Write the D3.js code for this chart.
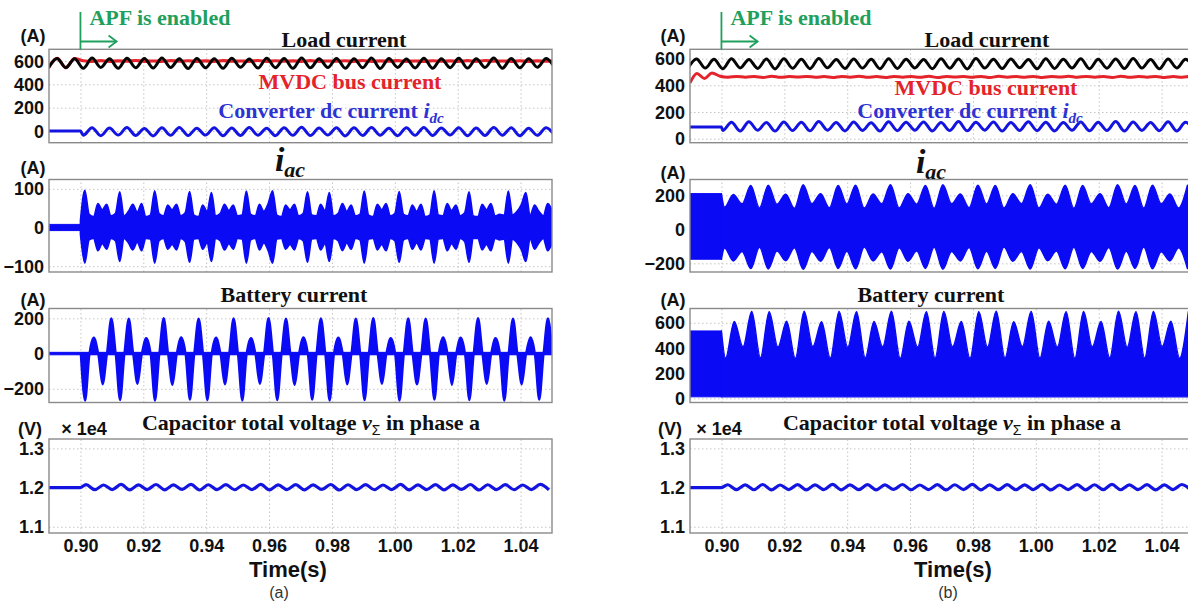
<!DOCTYPE html>
<html><head><meta charset="utf-8">
<script src="https://cdn.jsdelivr.net/npm/d3@7"></script>
<style>body{margin:0;background:#fff}svg{display:block}</style>
</head><body>
<svg id="c" width="1188" height="603"></svg>
<script>
// ================= DATA =================
const timeDomain = [0.89, 1.05];
const xTickValues = [0.90, 0.92, 0.94, 0.96, 0.98, 1.00, 1.02, 1.04];
const apfEnableTime = 0.9;
const halfPeriod = 1 / 360;     // 180 Hz ripple, extremum spacing
const quarterPeriod = 1 / 720;  // envelope sample spacing

const yTicksLeft  = {p1: [0, 200, 400, 600], p2: [-100, 0, 100], p3: [-200, 0, 200], p4: [1.1, 1.2, 1.3]};
const yTicksRight = {p1: [0, 200, 400, 600], p2: [-200, 0, 200], p3: [0, 200, 400, 600], p4: [1.1, 1.2, 1.3]};

// ---- (a) left case ----
const loadLeftStart = 0.8898;
const loadLeft = [540,622,543,620,538,625,545,618,537,623,542,621,539,626,544,619,536,622,541,620,
  538,624,546,617,539,623,543,621,537,625,541,618,544,622,538,620,542,626,536,621,
  545,617,540,624,537,620,543,623,539,618,544,625,538,621,541,619,546,622,540];
const mvdcLeftStart = 0.8898;
const mvdcLeft = [540,622,543,620,602,597,603,596,601,598,604,597,600,596,603,598,602,597,601,596,
  603,598,600,597,604,596,602,598,601,597,603,596,600,598,602,597,604,596,601,598,
  603,597,600,596,602,598,601,597,603,596,604,598,600,597,602,596,601,598,603];
const idcLeftPre = [[0.89, 0], [0.9, 0]];
const idcLeftStart = 0.9009;
const idcLeft = [-36,28,-40,25,-35,30,-38,22,-42,27,-37,31,-39,24,-35,29,-41,26,-38,30,
  -36,23,-40,28,-37,32,-39,25,-35,29,-42,27,-38,30,-36,24,-40,28,-37,31,
  -39,26,-35,29,-41,25,-38,30,-36,27,-40,23,-37,29,-39];
const iacLeftPreBand = [8, -8];
const iacLeftStart = 0.9;
const iacLeftUpper = [18,
  96,34,28,62,46,60,30,36, 92,30,42,60,40,62,28,32, 95,36,30,58,46,60,30,38,
  93,32,28,58,42,90,30,36, 60,44,58,30,32,94,34,30, 60,42,62,95,32,28,58,46,
  60,30,36,92,32,30,60,44, 90,30,36,62,42,58,30,34, 94,32,28,60,46,62,30,36,
  93,34,30,58,42,60,28,32, 95,32,30,62,44,58,30,38, 92,30,28,60,46,62,30,34,
  32,94,32,42,60,90,32,58, 42,30,62,45];
const iacLeftLower = [-18,
  -92,-32,-28,-60,-42,-56,-28,-34, -88,-28,-40,-58,-38,-60,-28,-30, -92,-34,-28,-56,-44,-58,-28,-36,
  -90,-30,-28,-56,-40,-88,-28,-34, -58,-42,-56,-28,-30,-92,-32,-28, -58,-40,-60,-92,-30,-28,-56,-44,
  -58,-28,-34,-90,-30,-28,-58,-42, -88,-28,-34,-60,-40,-56,-28,-32, -92,-30,-28,-58,-44,-60,-28,-34,
  -90,-32,-28,-56,-40,-58,-28,-30, -92,-30,-28,-60,-42,-56,-28,-36, -90,-28,-28,-58,-44,-60,-28,-32,
  -30,-92,-30,-40,-58,-88,-30,-56, -40,-28,-60,-42];
const batteryLeftZeroBand = [7, -7];
const batteryLeftStart = 0.9001;
const batteryLeftNegPeaks = [-268,-175,-265,-172,-268,-178,-262,-265,-175,-268,-172,-265,-178,-262,
  -268,-175,-265,-172,-268,-175,-262,-178,-265,-172,-268,-175,-262];
const batteryLeftPosPeaks = [90,200,198,88,202,92,198,90,200,88,202,198,92,200,
  90,198,202,88,200,198,92,90,202,88,198,92,200];
const capLeftPre = [[0.89, 1.2], [0.9, 1.2]];
const capLeftStart = 0.9018;
const capLeft = [1.2075,1.1945,1.2065,1.1950,1.2080,1.1940,1.2070,1.1948,1.2078,1.1942,
  1.2068,1.1952,1.2082,1.1938,1.2072,1.1946,1.2076,1.1944,1.2066,1.1950,
  1.2080,1.1940,1.2070,1.1948,1.2074,1.1942,1.2068,1.1952,1.2078,1.1938,
  1.2072,1.1946,1.2076,1.1944,1.2066,1.1950,1.2080,1.1940,1.2070,1.1948,
  1.2074,1.1942,1.2068,1.1952,1.2078,1.1938,1.2072,1.1946,1.2076,1.1944,
  1.2066,1.1950,1.2080,1.1942];

// ---- (b) right case ----
const loadRightStart = 0.8893;
const loadRight = [526,598,529,595,524,600,530,594,527,597,523,599,528,596,525,601,531,593,526,598,
  529,595,524,600,527,596,530,594,525,599,528,597,523,601,529,595,526,598,531,594,
  524,600,527,596,530,599,525,595,528,598,526,601,529,594,524,597,530,596,527];
const mvdcRightPre = [[0.89,418],[0.8922,488],[0.8946,452],[0.8970,492],[0.8996,468]];
const mvdcRightStart = 0.9021;
const mvdcRight = [460,467,461,466,459,468,460,466,462,467,460,466,459,467,461,468,460,466,459,467,
  461,466,460,468,459,467,462,466,460,467,459,468,461,466,460,467,459,466,462,468,
  460,467,461,466,459,468,460,466,461,467,459,466,460,467,461];
const idcRightPre = [[0.89, 88], [0.9, 88]];
const idcRightStart = 0.9004;
const idcRight = [62,124,58,127,63,121,57,126,61,123,59,128,64,122,58,125,62,120,57,127,
  60,124,63,126,58,121,61,128,59,123,64,125,57,122,62,127,60,124,58,121,
  63,126,59,123,61,128,57,125,62,122,60,127,58,124,61];
const iacRightPreBand = [210, -176];
const iacRightStart = 0.9010;
const iacRightUpper = [130,205,150,258,126,260,148,207,124,262,150,210,127,258,149,260,125,208,151,262,
  126,210,148,258,124,262,150,208,127,260,149,258,125,210,151,262,126,207,148,260,
  124,258,150,210,127,262,149,258,125,260,151,208,126,260];
const iacRightLower = [-110,-186,-130,-231,-106,-233,-128,-185,-108,-235,-131,-188,-107,-230,-129,-232,-105,-186,-132,-234,
  -108,-188,-128,-230,-106,-235,-130,-186,-107,-232,-129,-230,-105,-188,-131,-234,-108,-185,-128,-232,
  -106,-230,-130,-188,-107,-234,-129,-230,-105,-232,-132,-186,-108,-231];
const batteryRightPreTop = 535;
const batteryRightFloor = 12;
const batteryRightStart = 0.9013;
const batteryRightUpper = [320,610,410,690,322,688,408,612,318,692,412,608,320,690,406,688,322,610,410,692,
  318,612,408,688,321,690,410,610,319,688,407,692,322,608,411,690,320,612,408,688,
  318,690,410,610,322,692,406,688,320,690,412,612,319,688];
const capRightPre = [[0.89, 1.2], [0.9, 1.2]];
const capRightStart = 0.9020;
const capRight = [1.2072,1.1948,1.2068,1.1944,1.2078,1.1942,1.2066,1.1950,1.2076,1.1940,
  1.2070,1.1948,1.2080,1.1942,1.2068,1.1946,1.2074,1.1940,1.2070,1.1952,
  1.2078,1.1944,1.2066,1.1948,1.2076,1.1940,1.2072,1.1950,1.2080,1.1942,
  1.2068,1.1946,1.2074,1.1944,1.2070,1.1948,1.2078,1.1940,1.2066,1.1950,
  1.2076,1.1942,1.2072,1.1946,1.2080,1.1944,1.2068,1.1948,1.2074,1.1940,
  1.2070,1.1950,1.2078,1.1944];

// ================= LAYOUT / DRAW =================
const svg = d3.select('#c');
const SANS = "'Liberation Sans', Arial, Helvetica, sans-serif";
const SERIF = "'Liberation Serif', 'Times New Roman', Times, serif";
const BLUE_FILL = '#0a0af5', BLUE_LINE = '#1414e0', RED = '#e4232a', GREEN = '#1fa05c';

const panelY = {p1: [49.3, 142.7], p2: [179.5, 272], p3: [308.5, 402.5], p4: [439, 533]};

function seq(t0, step, vals) { return vals.map((v, i) => [t0 + i * step, v]); }
function seq2(t0, step, hi, lo) { return hi.map((v, i) => [t0 + i * step, v, lo[i]]); }

const sides = [
  {id: 'a', x0: 49, x1: 552, ticks: yTicksLeft,
   dom: {p1: [-100, 700], p2: [-115, 124], p3: [-278, 256], p4: [1.084, 1.324]}},
  {id: 'b', x0: 690, x1: 1193, ticks: yTicksRight,
   dom: {p1: [-30, 670], p2: [-251, 293], p3: [-33, 713], p4: [1.084, 1.324]}}
];

function drawSide(cfg) {
  const x = d3.scaleLinear().domain(timeDomain).range([cfg.x0, cfg.x1]);
  const root = svg.append('g');
  const ys = {};
  ['p1', 'p2', 'p3', 'p4'].forEach(p => {
    const [top, bot] = panelY[p];
    const y = d3.scaleLinear().domain(cfg.dom[p]).range([bot, top]);
    ys[p] = y;
    const clipId = `clip-${cfg.id}-${p}`;
    root.append('clipPath').attr('id', clipId).append('rect')
      .attr('x', cfg.x0).attr('y', top).attr('width', cfg.x1 - cfg.x0).attr('height', bot - top);
    const gv = root.append('g').attr('transform', `translate(0,${bot})`)
      .call(d3.axisBottom(x).tickValues(xTickValues).tickSize(-(bot - top)).tickFormat(''));
    const gh = root.append('g').attr('transform', `translate(${cfg.x0},0)`)
      .call(d3.axisLeft(y).tickValues(cfg.ticks[p]).tickSize(-(cfg.x1 - cfg.x0)).tickFormat(''));
    [gv, gh].forEach(g => {
      g.select('.domain').remove();
      g.selectAll('line').attr('stroke', '#c4c4c4').attr('stroke-width', 1).attr('stroke-dasharray', '1.5,2.5');
    });
    const fmt = p === 'p4' ? d3.format('.1f') : d3.format('d');
    const ga = root.append('g').attr('transform', `translate(${cfg.x0},0)`)
      .call(d3.axisLeft(y).tickValues(cfg.ticks[p]).tickSize(0).tickPadding(5).tickFormat(fmt));
    ga.select('.domain').remove();
    ga.attr('font-family', SANS).attr('font-size', 18).attr('font-weight', 'bold');
    ga.selectAll('text').attr('fill', '#111').attr('dy', '0.34em');
    const layer = root.append('g').attr('clip-path', `url(#${clipId})`);
    ys[p + 'layer'] = layer;
    root.append('rect')
      .attr('x', cfg.x0).attr('y', top).attr('width', cfg.x1 - cfg.x0).attr('height', bot - top)
      .attr('fill', 'none').attr('stroke', '#8a8a8a').attr('stroke-width', 1.4);
  });
  const gx = root.append('g').attr('transform', `translate(0,${panelY.p4[1]})`)
    .call(d3.axisBottom(x).tickValues(xTickValues).tickSize(0).tickPadding(6).tickFormat(d3.format('.2f')));
  gx.select('.domain').remove();
  gx.attr('font-family', SANS).attr('font-size', 18).attr('font-weight', 'bold');
  gx.selectAll('text').attr('fill', '#111');
  return {x, ys, root};
}

const L = drawSide(sides[0]);
const R = drawSide(sides[1]);

function lineOn(S, p, pts, color, w) {
  const y = S.ys[p];
  S.ys[p + 'layer'].append('path').datum(pts)
    .attr('d', d3.line().x(d => S.x(d[0])).y(d => y(d[1])).curve(d3.curveMonotoneX))
    .attr('fill', 'none').attr('stroke', color).attr('stroke-width', w).attr('stroke-linejoin', 'round');
}
function bandOn(S, p, pts, color, curve, sw) {
  const y = S.ys[p];
  S.ys[p + 'layer'].append('path').datum(pts)
    .attr('d', d3.area().x(d => S.x(d[0])).y0(d => y(d[2])).y1(d => y(d[1])).curve(curve || d3.curveMonotoneX))
    .attr('fill', color).attr('stroke', color).attr('stroke-width', sw || 1).attr('stroke-linejoin', 'round');
}

// ---- left (a) ----
lineOn(L, 'p1', seq(mvdcLeftStart, halfPeriod, mvdcLeft), RED, 3.2);
lineOn(L, 'p1', seq(loadLeftStart, halfPeriod, loadLeft), '#050505', 3);
lineOn(L, 'p1', idcLeftPre.concat(seq(idcLeftStart, halfPeriod, idcLeft)), BLUE_LINE, 3);

bandOn(L, 'p2', [[0.89, iacLeftPreBand[0], iacLeftPreBand[1]], [apfEnableTime, iacLeftPreBand[0], iacLeftPreBand[1]]], BLUE_FILL, d3.curveLinear);
bandOn(L, 'p2', seq2(iacLeftStart, quarterPeriod, iacLeftUpper, iacLeftLower), BLUE_FILL, d3.curveMonotoneX, 1.6);

bandOn(L, 'p3', [[0.89, batteryLeftZeroBand[0], batteryLeftZeroBand[1]], [1.05, batteryLeftZeroBand[0], batteryLeftZeroBand[1]]], BLUE_FILL, d3.curveLinear);
const battNodes = [];
batteryLeftNegPeaks.forEach((n, m) => { battNodes.push(0, n, 0, batteryLeftPosPeaks[m]); });
battNodes.push(0);
bandOn(L, 'p3', battNodes.map((v, i) => [batteryLeftStart + i * quarterPeriod, v, 0]), BLUE_FILL, d3.curveMonotoneX, 2.2);

lineOn(L, 'p4', capLeftPre.concat(seq(capLeftStart, halfPeriod, capLeft)), BLUE_LINE, 3.2);

// ---- right (b) ----
lineOn(R, 'p1', seq(loadRightStart, halfPeriod, loadRight), '#050505', 3);
lineOn(R, 'p1', mvdcRightPre.concat(seq(mvdcRightStart, halfPeriod, mvdcRight)), RED, 3);
lineOn(R, 'p1', idcRightPre.concat(seq(idcRightStart, halfPeriod, idcRight)), BLUE_LINE, 3);

bandOn(R, 'p2', [[0.89, iacRightPreBand[0], iacRightPreBand[1]], [apfEnableTime, iacRightPreBand[0], iacRightPreBand[1]]], BLUE_FILL, d3.curveLinear);
bandOn(R, 'p2', [[apfEnableTime, iacRightPreBand[0], iacRightPreBand[1]]]
  .concat(seq2(iacRightStart, halfPeriod, iacRightUpper, iacRightLower)), BLUE_FILL, d3.curveMonotoneX, 1.4);

bandOn(R, 'p3', [[0.89, batteryRightPreTop, batteryRightFloor], [apfEnableTime, batteryRightPreTop, batteryRightFloor]], BLUE_FILL, d3.curveLinear);
bandOn(R, 'p3', [[apfEnableTime, batteryRightPreTop, batteryRightFloor]]
  .concat(seq(batteryRightStart, halfPeriod, batteryRightUpper).map(d => [d[0], d[1], batteryRightFloor])), BLUE_FILL, d3.curveMonotoneX, 1.4);

lineOn(R, 'p4', capRightPre.concat(seq(capRightStart, halfPeriod, capRight)), BLUE_LINE, 3.2);

// ================= TEXT / ANNOTATIONS =================
function txt(x, y, s, o) {
  o = o || {};
  return svg.append('text').attr('x', x).attr('y', y).text(s)
    .attr('font-family', o.family || SERIF).attr('font-size', o.size || 22)
    .attr('font-weight', o.weight || 'bold').attr('fill', o.fill || '#111')
    .attr('text-anchor', o.anchor || 'middle');
}
function titleSet(S, c) {
  const xa = S.x(apfEnableTime);
  svg.append('line').attr('x1', xa).attr('x2', xa).attr('y1', 12).attr('y2', panelY.p1[0])
    .attr('stroke', GREEN).attr('stroke-width', 1.8);
  const xe = S.x(apfEnableTime + 0.0115);
  svg.append('line').attr('x1', xa).attr('x2', xe).attr('y1', 41.5).attr('y2', 41.5).attr('stroke', GREEN).attr('stroke-width', 1.8);
  svg.append('path').attr('d', `M${xe - 8},${41.5 - 6}L${xe},41.5L${xe - 8},${41.5 + 6}`)
    .attr('fill', 'none').attr('stroke', GREEN).attr('stroke-width', 1.8);
  txt(xa + 9, 25, 'APF is enabled', {anchor: 'start', fill: GREEN});

  txt(c.load[0], c.load[1], 'Load current');
  txt(c.mvdc[0], c.mvdc[1], 'MVDC bus current', {fill: RED});
  const cv = txt(c.conv[0], c.conv[1], 'Converter dc current ', {fill: '#2d33d2'});
  cv.append('tspan').attr('font-style', 'italic').text('i');
  cv.append('tspan').attr('font-style', 'italic').attr('font-size', 15).attr('dy', 5).text('dc');

  const ia = txt(c.iac[0], c.iac[1], '', {});
  ia.append('tspan').attr('font-style', 'italic').attr('font-size', 34).text('i');
  ia.append('tspan').attr('font-style', 'italic').attr('font-size', 22).attr('dy', 6).text('ac');

  txt(c.batt[0], c.batt[1], 'Battery current');
  const cp = txt(c.cap[0], c.cap[1], 'Capacitor total voltage ', {});
  cp.append('tspan').attr('font-style', 'italic').text('v');
  cp.append('tspan').attr('font-size', 14).attr('dy', 5).attr('font-family', SANS).attr('font-weight', 'normal').text('\u03A3');
  cp.append('tspan').attr('dy', -5).text(' in phase a');

  const u = {family: SANS, size: 18};
  txt(c.unitX, 42, '(A)', u);
  txt(c.unitX, c.a2, '(A)', u);
  txt(c.unitX, c.a3, '(A)', u);
  txt(c.unitX - 3, 434.5, '(V)', u);
  txt(c.expX, 434.5, '\u00D7 1e4', {family: SANS, size: 18});

  txt(c.time[0], 577, 'Time(s)', {family: SANS, size: 22});
  txt(c.sub[0], 598, c.subLabel, {family: SANS, size: 16, weight: 'normal', fill: '#333'});
}

titleSet(L, {load: [344, 47], mvdc: [350, 89], conv: [331, 118], iac: [290, 171], batt: [294, 302],
  cap: [311, 430], unitX: 33, a2: 174, a3: 305.5, expX: 84, time: [288], sub: [279], subLabel: '(a)'});
titleSet(R, {load: [987, 47], mvdc: [986, 95], conv: [970, 118], iac: [931, 173], batt: [931, 302],
  cap: [952, 430], unitX: 673, a2: 178.5, a3: 305.5, expX: 719, time: [953], sub: [948], subLabel: '(b)'});
</script>
</body></html>
